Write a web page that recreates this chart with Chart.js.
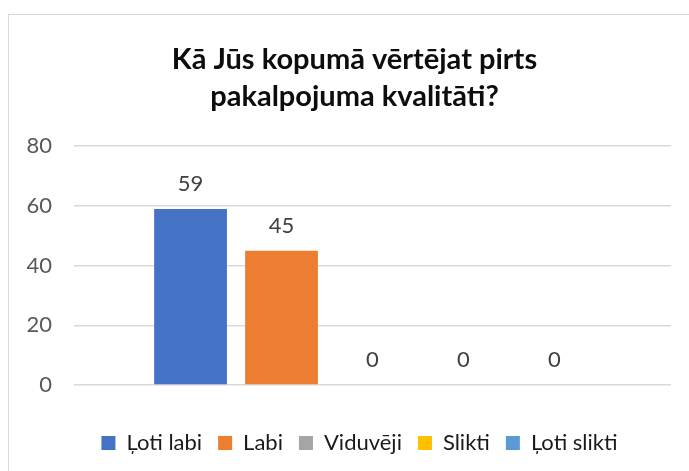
<!DOCTYPE html>
<html>
<head>
<meta charset="utf-8">
<script src="https://cdn.jsdelivr.net/npm/chart.js@4"></script>
<style>
  html, body { margin: 0; padding: 0; background: #fff; }
  #wrap { width: 689px; height: 471px; position: relative; }
</style>
</head>
<body>
<div id="wrap"><canvas id="chart"></canvas></div>
<script>
const chartTitle = ['Kā Jūs kopumā vērtējat pirts', 'pakalpojuma kvalitāti?'];
const seriesNames = ['Ļoti labi', 'Labi', 'Viduvēji', 'Slikti', 'Ļoti slikti'];
const seriesValues = [59, 45, 0, 0, 0];
const seriesColors = ['#4472C4', '#ED7D31', '#A5A5A5', '#FFC000', '#5B9BD5'];
const yTicks = [0, 20, 40, 60, 80];

const FONT = 'Lato, "Liberation Sans", sans-serif';

// Подписи значений над столбцами
const valueLabelsPlugin = {
  id: 'valueLabels',
  afterDatasetsDraw(chart) {
    const ctx = chart.ctx;
    ctx.save();
    ctx.font = `22px ${FONT}`;
    ctx.fillStyle = '#404040';
    ctx.textAlign = 'center';
    ctx.textBaseline = 'middle';
    chart.data.datasets.forEach((ds, i) => {
      const bar = chart.getDatasetMeta(i).data[0];
      if (!bar) return;
      ctx.fillText(String(ds.data[0]), bar.x, bar.y - 25);
    });
    ctx.restore();
  },
};

// Рамка вокруг области диаграммы
const frameBorderPlugin = {
  id: 'frameBorder',
  beforeDraw(chart) {
    const ctx = chart.ctx;
    ctx.save();
    ctx.strokeStyle = '#d9d9d9';
    ctx.lineWidth = 1;
    ctx.strokeRect(8.5, 14.5, 800, 600);
    ctx.restore();
  },
};

// Сдвиг заголовка и легенды вправо (в оригинале они центрированы по всей рамке)
const shiftBoxesPlugin = {
  id: 'shiftBoxes',
  afterLayout(chart) {
    if (chart.legend) {
      chart.legend.left += 24;
      chart.legend.right += 24;
    }
    if (chart.titleBlock) {
      chart.titleBlock.left += 19;
      chart.titleBlock.right += 19;
    }
  },
};

new Chart(document.getElementById('chart').getContext('2d'), {
  type: 'bar',
  data: {
    labels: [''],
    datasets: seriesNames.map((name, i) => ({
      label: name,
      data: [seriesValues[i]],
      backgroundColor: seriesColors[i],
      borderWidth: 0,
      barPercentage: 0.8,
      categoryPercentage: 0.762,
    })),
  },
  options: {
    animation: false,
    responsive: true,
    maintainAspectRatio: false,
    layout: { padding: { left: 0, right: 18, top: 0, bottom: 7 } },
    plugins: {
      tooltip: { enabled: false },
      title: {
        display: true,
        text: chartTitle,
        color: '#0d0d0d',
        font: { family: FONT, size: 29, weight: 'bold', lineHeight: 1.28 },
        padding: { top: 41, bottom: 31 },
      },
      legend: {
        position: 'bottom',
        labels: {
          boxWidth: 14,
          boxHeight: 14,
          padding: 16,
          color: '#1a1a1a',
          font: { family: FONT, size: 22 },
        },
      },
    },
    scales: {
      x: {
        grid: { display: false },
        border: { display: false },
        ticks: { display: false },
        afterFit(scale) { scale.height = 31; },
      },
      y: {
        min: 0,
        max: 80,
        afterBuildTicks(scale) { scale.ticks = yTicks.map((v) => ({ value: v })); },
        afterFit(scale) { scale.width = 74; },
        grid: { color: '#d9d9d9', lineWidth: 1.5, drawTicks: false },
        border: { display: false },
        ticks: {
          padding: 22,
          color: '#595959',
          font: { family: FONT, size: 22 },
        },
      },
    },
  },
  plugins: [valueLabelsPlugin, frameBorderPlugin, shiftBoxesPlugin],
});
</script>
</body>
</html>
